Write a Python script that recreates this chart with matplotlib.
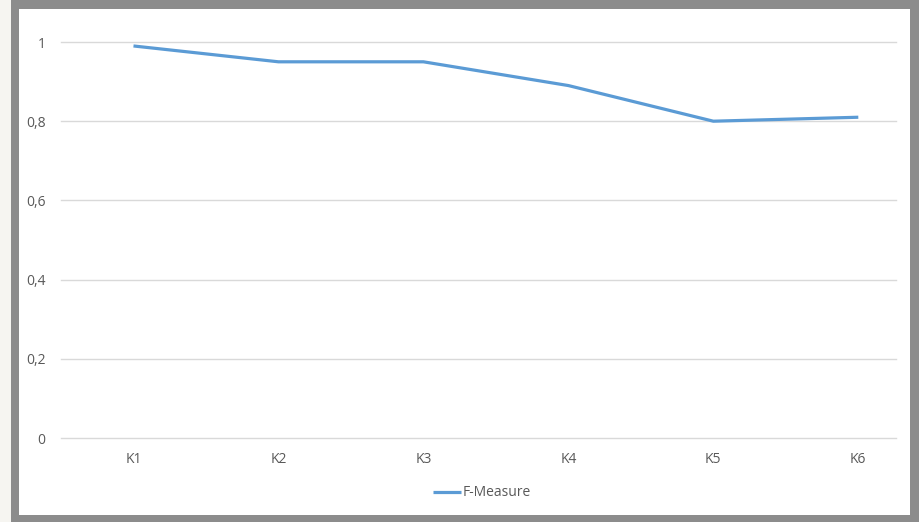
import matplotlib
matplotlib.use("Agg")
import matplotlib.pyplot as plt
from matplotlib.patches import Rectangle

# dados do gráfico
categorias = ["K1", "K2", "K3", "K4", "K5", "K6"]
f_measure = [0.99, 0.95, 0.95, 0.89, 0.80, 0.81]
y_ticks = [0, 0.2, 0.4, 0.6, 0.8, 1]
y_labels = ["0", "0,2", "0,4", "0,6", "0,8", "1"]

W, H = 920, 522
plt.rcParams["font.family"] = ["Open Sans", "DejaVu Sans"]

fig = plt.figure(figsize=(W / 100, H / 100), dpi=100, facecolor="#f6f5f1")

# moldura cinza e fundo branco do gráfico
fig.patches.append(Rectangle((11 / W, 0), (W - 11) / W, 1, transform=fig.transFigure,
                             facecolor="#8c8c8c", edgecolor="none", zorder=0))
fig.patches.append(Rectangle((19 / W, 7 / H), (910 - 19) / W, (513 - 7) / H,
                             transform=fig.transFigure, facecolor="white",
                             edgecolor="none", zorder=1))

ax = fig.add_axes([61 / W, 1 - 438 / H, (896 - 61) / W, (438 - 42) / H])
ax.set_zorder(2)
ax.set_facecolor("none")

x = list(range(len(categorias)))
ax.plot(x, f_measure, color="#5b9bd5", linewidth=2.3, label="F-Measure",
        solid_capstyle="butt", zorder=3)

ax.set_xlim(-0.5, 5.26)
ax.set_ylim(0, 1)
ax.set_xticks(x)
ax.set_xticklabels(categorias)
ax.set_yticks(y_ticks)
ax.set_yticklabels(y_labels)

ax.grid(axis="y", color="#d9d9d9", linewidth=1)
for gl in ax.get_ygridlines():
    gl.set_clip_on(False)
ax.set_axisbelow(True)
for s in ax.spines.values():
    s.set_visible(False)

ax.tick_params(axis="both", length=0, colors="#595959", labelsize=10)
ax.tick_params(axis="y", pad=11)
ax.tick_params(axis="x", pad=10)

leg = fig.legend(loc="center", bbox_to_anchor=(482 / W, 1 - 493 / H), frameon=False,
                 fontsize=10, labelcolor="#595959", handlelength=2.0, handletextpad=0.1)
leg.set_zorder(3)

fig.savefig("out.png", dpi=100, facecolor=fig.get_facecolor())
